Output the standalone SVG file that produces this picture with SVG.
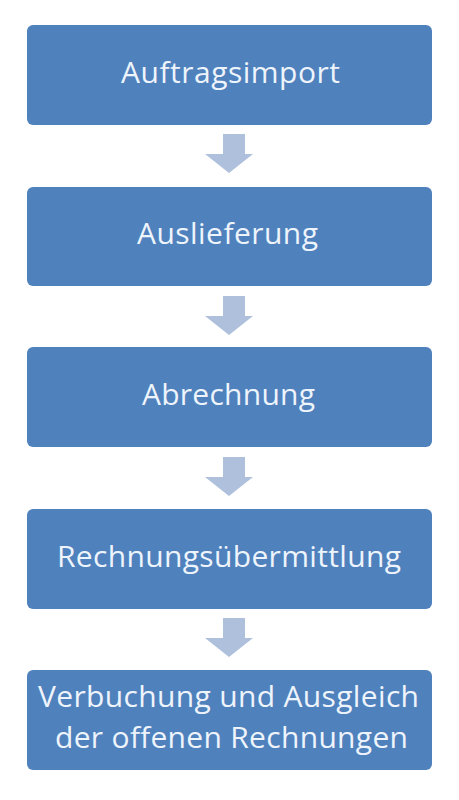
<svg xmlns="http://www.w3.org/2000/svg" width="459" height="800" viewBox="0 0 459 800">
<defs>
<style>
.box{fill:#4F81BD;}
.lbl{fill:#EEF4FB;font-family:"Open Sans",Lato,sans-serif;font-size:30px;text-anchor:middle;}
.arr{fill:#AFC0DD;}
</style>
</defs>
<rect width="459" height="800" fill="#FFFFFF"/>
<g id="connectors">
<path class="arr" d="M223,134 H245 V154 H253 L229,173 L205,154 H223 Z"/>
<path class="arr" d="M223,296 H245 V316 H253 L229,335 L205,316 H223 Z"/>
<path class="arr" d="M223,457 H245 V477 H253 L229,496 L205,477 H223 Z"/>
<path class="arr" d="M223,618 H245 V638 H253 L229,657 L205,638 H223 Z"/>
</g>
<g id="n1"><rect class="box" x="27" y="25" width="405" height="100" rx="6"/><text class="lbl" x="230.5" y="83" textLength="219" lengthAdjust="spacing">Auftragsimport</text></g>
<g id="n2"><rect class="box" x="27" y="187" width="405" height="99" rx="6"/><text class="lbl" x="227.5" y="244" textLength="181" lengthAdjust="spacing">Auslieferung</text></g>
<g id="n3"><rect class="box" x="27" y="347" width="405" height="100" rx="6"/><text class="lbl" x="228.5" y="405" textLength="173" lengthAdjust="spacing">Abrechnung</text></g>
<g id="n4"><rect class="box" x="27" y="509" width="405" height="100" rx="6"/><text class="lbl" x="229" y="567" textLength="344" lengthAdjust="spacing">Rechnungsübermittlung</text></g>
<g id="n5"><rect class="box" x="27" y="670" width="405" height="100" rx="6"/><text class="lbl" x="228.5" y="707" textLength="381" lengthAdjust="spacing">Verbuchung und Ausgleich</text><text class="lbl" x="231.5" y="748" textLength="353" lengthAdjust="spacing">der offenen Rechnungen</text></g>
</svg>
